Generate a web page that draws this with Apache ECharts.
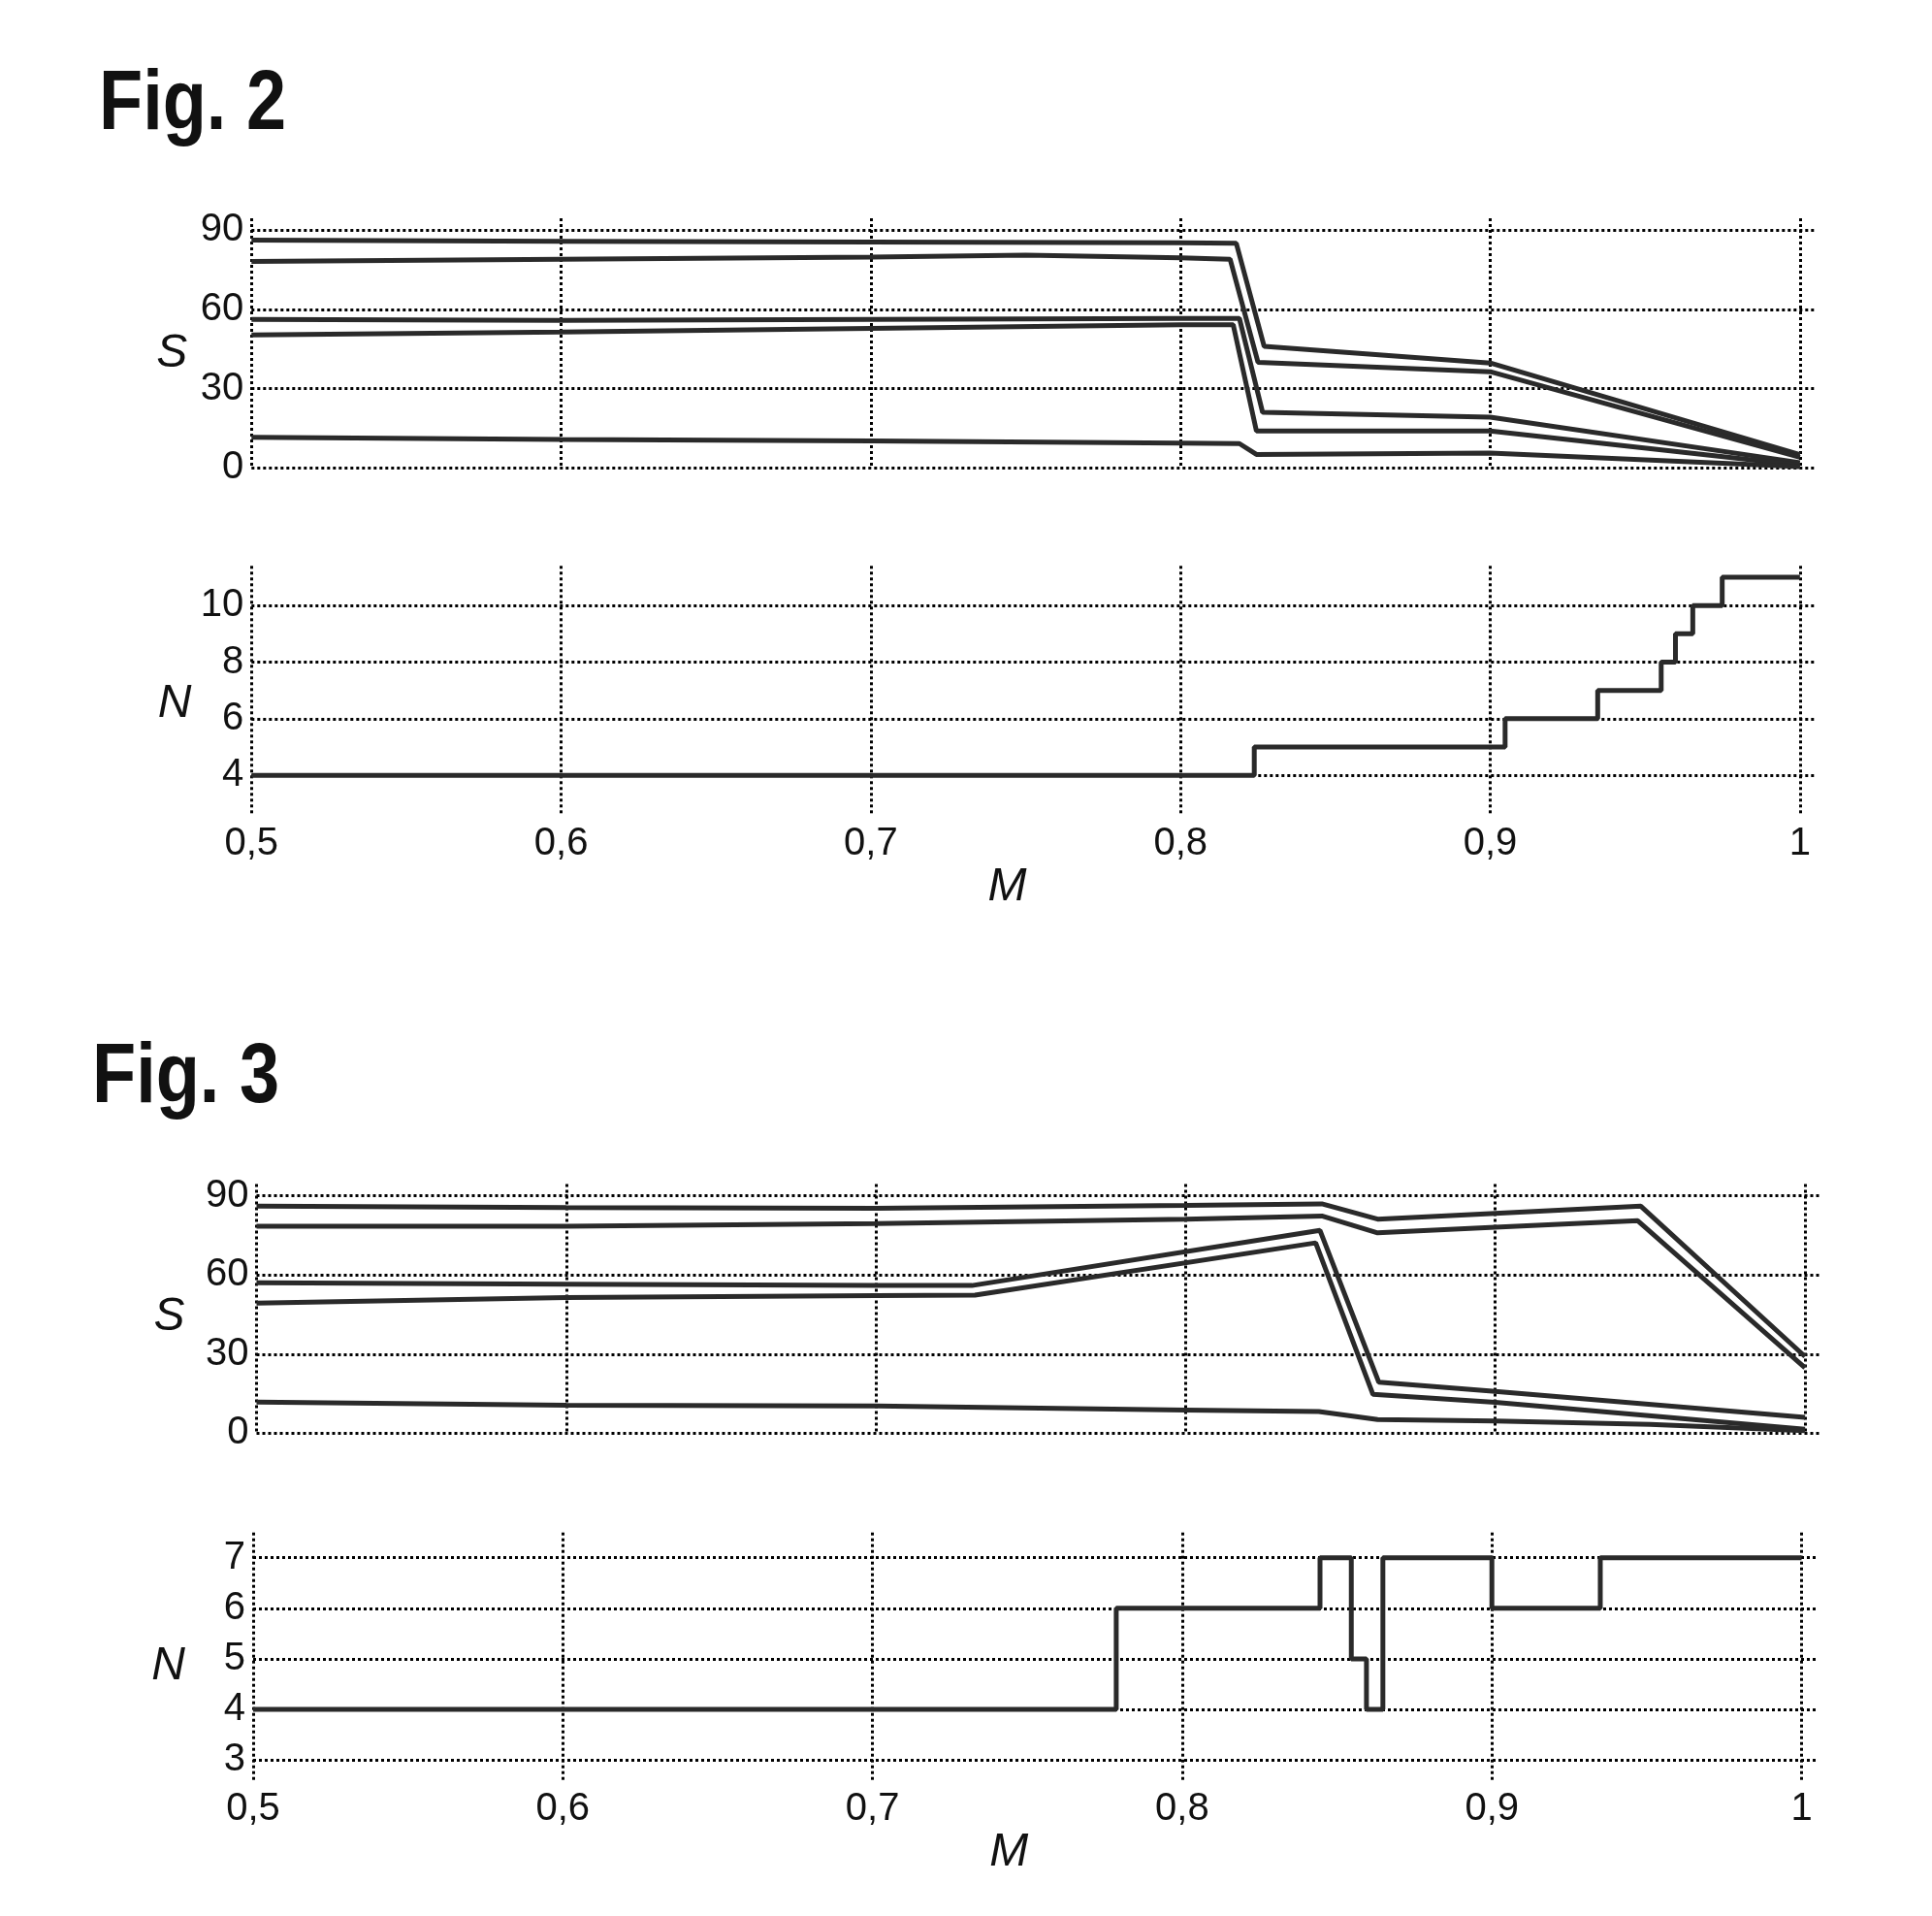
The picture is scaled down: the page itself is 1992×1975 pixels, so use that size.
<!DOCTYPE html>
<html>
<head>
<meta charset="utf-8">
<script src="https://cdn.jsdelivr.net/npm/echarts@6/dist/echarts.min.js"></script>
<style>
html,body{margin:0;padding:0;background:#fff;}
#c{width:1992px;height:1975px;}
</style>
</head>
<body>
<div id="c"></div>
<script>
// ---------- data ----------
const xTicks = [0.5, 0.6, 0.7, 0.8, 0.9, 1.0];
const sTicks = [0, 30, 60, 90];
const fig2NTicks = [4, 6, 8, 10];
const fig3NTicks = [3, 4, 5, 6, 7];

// Fig. 2 – S(M)
const fig2S1 = [[0.5,86.2],[0.6,85.8],[0.7,85.5],[0.8,85.2],[0.818,85.0],[0.827,46.0],[0.9,39.7],[1.0,5.0]];
const fig2S2 = [[0.5,78.2],[0.6,79.0],[0.7,79.8],[0.75,80.5],[0.8,79.5],[0.816,79.0],[0.825,40.0],[0.9,36.4],[1.0,4.0]];
const fig2S3 = [[0.5,56.2],[0.6,55.8],[0.7,56.2],[0.8,56.6],[0.819,56.6],[0.8265,21.0],[0.9,19.2],[1.0,2.0]];
const fig2S4 = [[0.5,50.3],[0.6,51.4],[0.7,52.8],[0.8,54.2],[0.817,54.2],[0.8245,14.0],[0.9,14.0],[1.0,1.0]];
const fig2S5 = [[0.5,11.6],[0.6,10.8],[0.7,10.2],[0.8,9.4],[0.819,9.2],[0.8245,5.1],[0.9,5.6],[1.0,0.5]];
// Fig. 2 – N(M), value holds from its M to the next M
const fig2N = [[0.5,4],[0.8238,5],[0.9048,6],[0.9347,7],[0.9552,8],[0.9598,9],[0.9654,10],[0.9749,11],[1.0,11]];

// Fig. 3 – S(M)
const fig3S1 = [[0.5,86.1],[0.6,85.6],[0.7,85.3],[0.8,86.4],[0.844,87.0],[0.862,81.2],[0.9,83.4],[0.947,86.1],[1.0,29.1]];
const fig3S2 = [[0.5,78.5],[0.6,78.5],[0.7,79.5],[0.8,81.2],[0.844,82.4],[0.862,76.0],[0.9,78.1],[0.946,80.6],[1.0,24.8]];
const fig3S3 = [[0.5,57.1],[0.6,56.5],[0.7,56.0],[0.731,56.0],[0.8434,76.9],[0.8624,19.3],[0.9,15.8],[1.0,6.0]];
const fig3S4 = [[0.5,49.3],[0.6,51.4],[0.7,52.2],[0.732,52.4],[0.842,72.2],[0.8605,14.7],[0.9,11.7],[1.0,1.5]];
const fig3S5 = [[0.5,11.8],[0.6,10.6],[0.7,10.3],[0.8,8.8],[0.843,8.2],[0.862,5.2],[0.9,4.6],[0.95,3.3],[1.0,0.9]];
// Fig. 3 – N(M)
const fig3N = [[0.5,4],[0.7787,6],[0.8445,7],[0.8546,5],[0.8595,4],[0.8648,7],[0.9,6],[0.935,7],[1.0,7]];

// ---------- style ----------
const INK = '#000';
const LINE = '#2a2a2a';
const FONT = '"Liberation Sans", Arial, sans-serif';
const gridLine = {show: true, lineStyle: {color: INK, width: 3, type: [3, 3]}};
const tickFont = {fontFamily: FONT, fontSize: 40, color: '#111'};
const nameFont = {fontFamily: FONT, fontSize: 48, fontStyle: 'italic', color: '#111'};
const fmt = v => String(Math.round(v * 1000) / 1000).replace('.', ',');

function xAxis(gi, withLabels) {
  return {
    type: 'value', gridIndex: gi, min: 0.5, max: 1.005,
    axisLine: {show: false},
    axisTick: {show: false, customValues: xTicks},
    axisLabel: withLabels
      ? Object.assign({show: true, customValues: xTicks, margin: 10, formatter: fmt}, tickFont)
      : {show: false, customValues: xTicks},
    splitLine: gridLine,
    name: withLabels ? 'M' : '',
    nameLocation: 'middle',
    nameGap: 50,
    nameTextStyle: Object.assign({padding: [0, 54, 0, 0]}, nameFont)
  };
}
function yAxis(gi, min, max, ticks, name, gap, lh) {
  return {
    type: 'value', gridIndex: gi, min: min, max: max,
    axisLine: {show: false},
    axisTick: {show: false, customValues: ticks},
    axisLabel: Object.assign({show: true, customValues: ticks, margin: 8, formatter: fmt}, tickFont),
    splitLine: gridLine,
    name: name, nameLocation: 'middle', nameRotate: 0, nameGap: gap,
    nameTextStyle: Object.assign({verticalAlign: 'top', lineHeight: lh}, nameFont)
  };
}
function line(data, xi, step) {
  return {
    type: 'line', xAxisIndex: xi, yAxisIndex: xi, data: data,
    showSymbol: false, symbol: 'none', step: step || false,
    lineStyle: {color: LINE, width: 5}, silent: true
  };
}

const option = {
  backgroundColor: '#fff',
  animation: false,
  grid: [
    {left: 259.3, top: 225, width: 1612.5, height: 257.3},
    {left: 259.3, top: 583.3, width: 1612.5, height: 256.7},
    {left: 264.5, top: 1220.5, width: 1612.5, height: 256.8},
    {left: 261, top: 1579.7, width: 1612.5, height: 255.2}
  ],
  xAxis: [xAxis(0, false), xAxis(1, true), xAxis(2, false), xAxis(3, true)],
  yAxis: [
    yAxis(0, 0, 94.5, sTicks, 'S', 66, 22),
    yAxis(1, 2.6, 11.4, fig2NTicks, 'N', 62, 28),
    yAxis(2, 0, 94.5, sTicks, 'S', 74, 18),
    yAxis(3, 2.6, 7.5, fig3NTicks, 'N', 70, 20)
  ],
  series: [
    line(fig2S1, 0), line(fig2S2, 0), line(fig2S3, 0), line(fig2S4, 0), line(fig2S5, 0),
    line(fig2N, 1, 'end'),
    line(fig3S1, 2), line(fig3S2, 2), line(fig3S3, 2), line(fig3S4, 2), line(fig3S5, 2),
    line(fig3N, 3, 'end')
  ],
  graphic: [
    {type: 'text', x: 102, y: 65, scaleX: 0.84,
     style: {text: 'Fig. 2', fill: '#111', font: 'bold 88px "Liberation Sans", Arial, sans-serif', textVerticalAlign: 'top'}},
    {type: 'text', x: 95, y: 1068, scaleX: 0.84,
     style: {text: 'Fig. 3', fill: '#111', font: 'bold 88px "Liberation Sans", Arial, sans-serif', textVerticalAlign: 'top'}}
  ]
};

const chart = echarts.init(document.getElementById('c'), null, {renderer: 'canvas'});
chart.setOption(option);
</script>
</body>
</html>
